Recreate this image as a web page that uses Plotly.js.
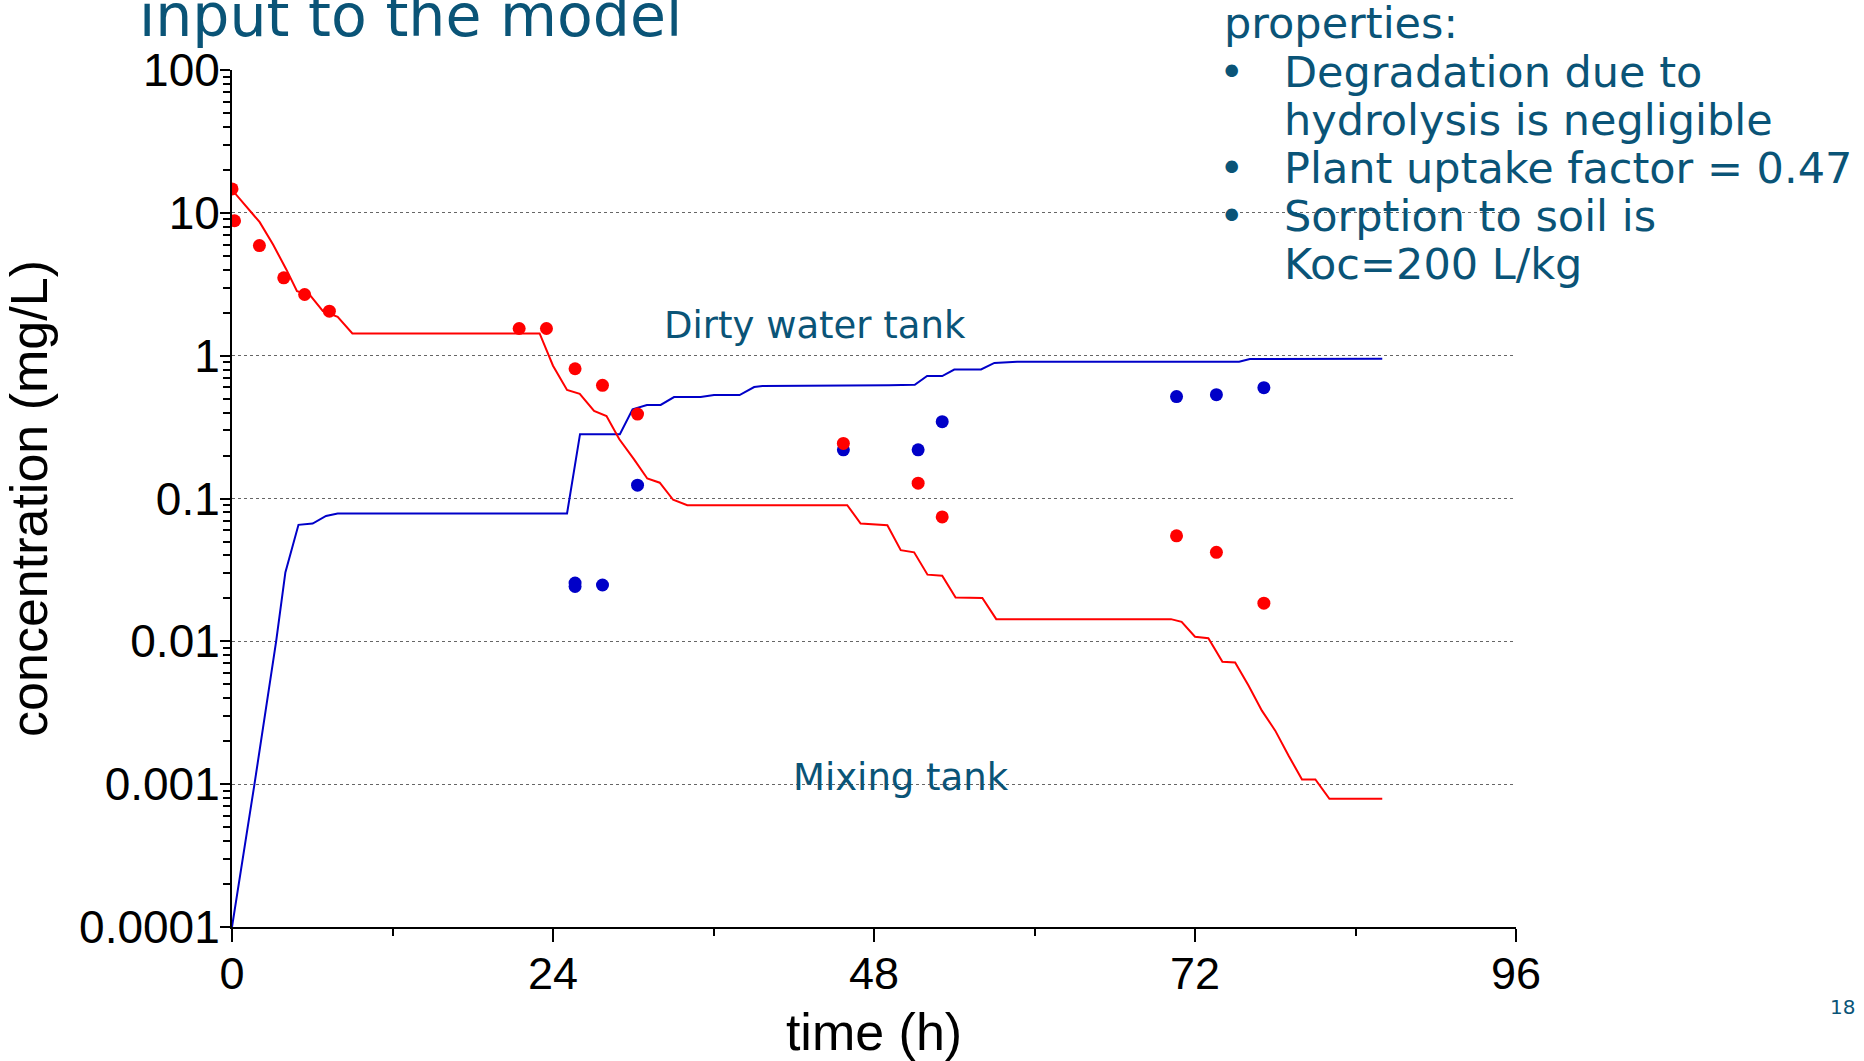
<!DOCTYPE html>
<html>
<head>
<meta charset="utf-8">
<script src="https://cdn.plot.ly/plotly-3.0.1.min.js"></script>
<style>html,body{margin:0;padding:0;background:#fff;}#chart{width:1864px;height:1061px;}</style>
</head>
<body>
<div id="chart"></div>
<script>
// Model curves
const dirtyModelTime = [0, 1.68, 3.3, 3.99, 4.97, 6.03, 7.03, 7.9, 25.05, 26.02, 29.0, 29.95, 31.02, 32.05, 33.05, 35.04, 36.04, 37.95, 39.04, 39.66, 49.1, 51.05, 51.97, 53.1, 54.0, 56.0, 57.0, 58.7, 75.3, 76.1, 86.0];
const dirtyModelConc = [0.0001, 0.001, 0.01, 0.0304, 0.0654, 0.0668, 0.0755, 0.0785, 0.0785, 0.282, 0.282, 0.421, 0.452, 0.452, 0.513, 0.513, 0.53, 0.53, 0.603, 0.613, 0.62, 0.625, 0.72, 0.72, 0.80, 0.80, 0.89, 0.908, 0.908, 0.947, 0.95];

const mixModelTime = [0, 2.07, 3.07, 4.07, 4.86, 5.8, 6.8, 7.9, 9.0, 23.0, 24.0, 25.05, 26.0, 27.07, 28.0, 28.96, 30.06, 31.05, 31.98, 32.98, 34.04, 46.0, 47.0, 49.0, 50.0, 51.0, 52.0, 53.1, 54.1, 56.1, 57.14, 70.2, 71.0, 72.0, 73.0, 74.05, 75.0, 76.0, 77.0, 78.0, 79.0, 80.0, 81.0, 82.05, 86.0];
const mixModelConc = [14.5, 8.6, 6.0, 4.0, 2.83, 2.68, 2.05, 1.87, 1.43, 1.43, 0.85, 0.575, 0.54, 0.41, 0.378, 0.26, 0.188, 0.138, 0.129, 0.098, 0.0898, 0.0898, 0.0668, 0.065, 0.0435, 0.042, 0.0293, 0.0288, 0.0203, 0.0201, 0.0143, 0.0143, 0.0137, 0.01076, 0.0105, 0.0072, 0.0071, 0.0049, 0.00327, 0.00237, 0.00158, 0.00108, 0.00108, 0.00079, 0.00079];

// Measurements
const dirtyObsTime = [25.65, 25.65, 27.7, 30.32, 45.71, 51.3, 53.1, 70.62, 73.6, 77.15];
const dirtyObsConc = [0.0242, 0.0256, 0.0248, 0.124, 0.219, 0.219, 0.345, 0.517, 0.533, 0.597];

const mixObsTime = [0, 0.19, 2.05, 3.87, 5.43, 7.28, 21.47, 23.51, 25.65, 27.7, 30.32, 45.71, 51.3, 53.1, 70.62, 73.6, 77.15];
const mixObsConc = [14.7, 8.8, 5.9, 3.51, 2.68, 2.05, 1.55, 1.55, 0.81, 0.62, 0.39, 0.243, 0.128, 0.0743, 0.0548, 0.042, 0.0185];

// Axis ticks
const yTickVals = [0.0001, 0.001, 0.01, 0.1, 1, 10, 100];
const yTickText = ['0.0001', '0.001', '0.01', '0.1', '1', '10', '100'];

// Texts
const titleText = 'input to the model';
const propHeader = 'properties:';
const propLines = ['Degradation due to', 'hydrolysis is negligible', 'Plant uptake factor = 0.47', 'Sorption to soil is', 'Koc=200 L/kg'];
const bulletOnLine = [true, false, true, true, false];

const RED = '#ff0000';
const BLUE = '#0000c8';
const TEAL = '#0a5477';
const TXT = 'DejaVu Sans, Verdana, sans-serif';
const AX = 'Liberation Sans, Arial, sans-serif';

const traces = [
  {x: dirtyModelTime, y: dirtyModelConc, mode: 'lines', line: {color: BLUE, width: 2}, name: 'Dirty water tank model'},
  {x: mixModelTime, y: mixModelConc, mode: 'lines', line: {color: RED, width: 2}, name: 'Mixing tank model'},
  {x: dirtyObsTime, y: dirtyObsConc, mode: 'markers', marker: {color: BLUE, size: 13}, name: 'Dirty water tank measured'},
  {x: mixObsTime, y: mixObsConc, mode: 'markers', marker: {color: RED, size: 13}, name: 'Mixing tank measured'}
];

// plot area in pixels
const L = 232, R = 1516, T = 70, B = 927;
const W = R - L, H = B - T;
const px = v => (v - L) / W;
const py = v => (B - v) / H;

const annotations = [];
const bodySize = 43;
const lineBase = [38, 87, 135, 183, 231, 279];
annotations.push({xref: 'paper', yref: 'paper', x: px(1222), y: py(lineBase[0] - 0.346 * bodySize), xanchor: 'left', yanchor: 'middle',
  text: propHeader, showarrow: false, font: {family: TXT, size: bodySize, color: TEAL}});
propLines.forEach((t, i) => {
  const c = lineBase[i + 1] - 0.346 * bodySize;
  annotations.push({xref: 'paper', yref: 'paper', x: px(1282), y: py(c), xanchor: 'left', yanchor: 'middle',
    text: t, showarrow: false, font: {family: TXT, size: bodySize, color: TEAL}});
  if (bulletOnLine[i]) {
    annotations.push({xref: 'paper', yref: 'paper', x: px(1217), y: py(c), xanchor: 'left', yanchor: 'middle',
      text: '•', showarrow: false, font: {family: TXT, size: bodySize, color: TEAL}});
  }
});
annotations.push({xref: 'x', yref: 'y', x: 43.57, y: 0.208, xanchor: 'center', yanchor: 'middle',
  text: 'Dirty water tank', showarrow: false, font: {family: TXT, size: 37, color: TEAL}});
annotations.push({xref: 'x', yref: 'y', x: 50.03, y: -2.956, xanchor: 'center', yanchor: 'middle',
  text: 'Mixing tank', showarrow: false, font: {family: TXT, size: 37, color: TEAL}});
annotations.push({xref: 'paper', yref: 'paper', x: px(1842), y: py(1007), xanchor: 'center', yanchor: 'middle',
  text: '18', showarrow: false, font: {family: TXT, size: 20, color: TEAL}});

const layout = {
  width: 1864, height: 1061,
  margin: {l: L, r: 1864 - R, t: T, b: 1061 - B, pad: 0},
  paper_bgcolor: '#fff', plot_bgcolor: '#fff',
  showlegend: false,
  title: {text: titleText, xref: 'container', yref: 'container', x: 139 / 1864, xanchor: 'left',
          y: 1 - (36 - 0.346 * 58.5) / 1061, yanchor: 'middle', font: {family: TXT, size: 58.5, color: TEAL}},
  xaxis: {
    range: [0, 96], tickmode: 'linear', tick0: 0, dtick: 24,
    ticks: 'outside', ticklen: 13, tickwidth: 2, tickcolor: '#000',
    showline: true, linecolor: '#000', linewidth: 2, mirror: false,
    showgrid: false, zeroline: false,
    tickfont: {family: AX, size: 45, color: '#000'},
    ticklabelstandoff: -7,
    minor: {dtick: 12, ticks: 'outside', ticklen: 7, tickwidth: 2, tickcolor: '#000', showgrid: false},
    title: {text: 'time (h)', font: {family: AX, size: 52, color: '#000'}, standoff: 22},
    automargin: false
  },
  yaxis: {
    type: 'log', range: [-4, 2],
    tickmode: 'array', tickvals: yTickVals, ticktext: yTickText,
    ticks: 'outside', ticklen: 10, tickwidth: 2, tickcolor: '#000',
    showline: true, linecolor: '#000', linewidth: 2,
    showgrid: true, gridcolor: '#666', gridwidth: 1, griddash: 'dot',
    zeroline: false,
    tickfont: {family: AX, size: 46, color: '#000'},
    ticklabelstandoff: -9,
    minor: {dtick: 'D1', ticks: 'outside', ticklen: 7, tickwidth: 2, tickcolor: '#000', showgrid: false},
    title: {text: 'concentration (mg/L)', font: {family: AX, size: 52, color: '#000'}, standoff: 15},
    automargin: false
  },
  annotations: annotations
};

Plotly.newPlot('chart', traces, layout, {displayModeBar: false, staticPlot: true});
</script>
</body>
</html>
